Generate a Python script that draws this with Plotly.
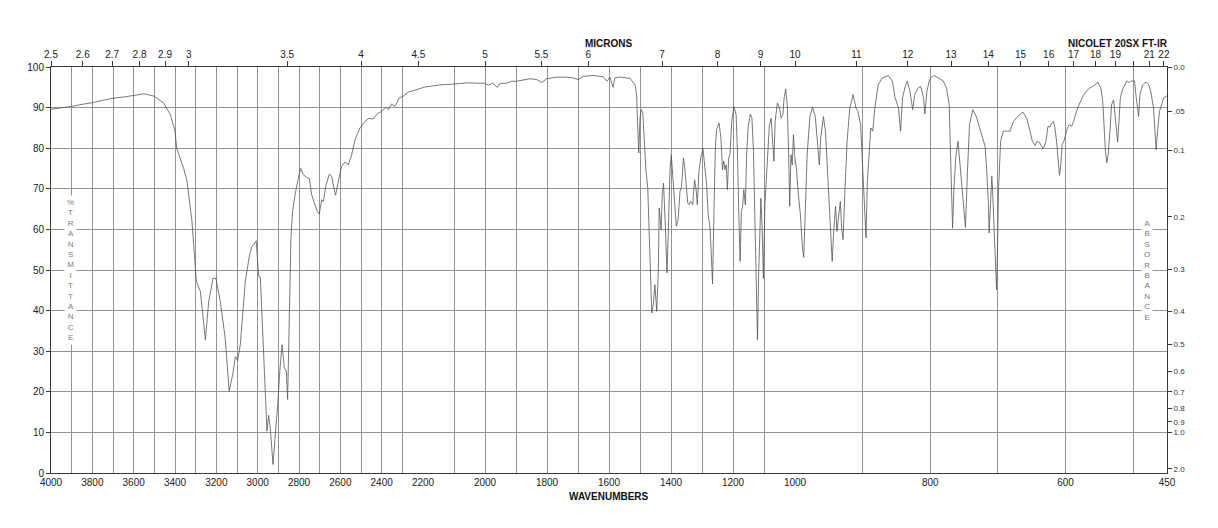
import plotly.graph_objects as go

# ---------------- data ----------------
wavenumbers = [
    4000, 3950, 3900, 3850, 3800, 3750, 3700, 3650, 3600, 3550, 3500, 3455, 3423, 3400, 3392,
    3358, 3342, 3318, 3306, 3297, 3277, 3253, 3237, 3216, 3202, 3181, 3157, 3138, 3121, 3108,
    3097, 3084, 3060, 3039, 3028, 3020, 3007, 2995, 2987, 2974, 2966, 2955, 2947, 2939, 2926,
    2914, 2903, 2893, 2882, 2871, 2861, 2855, 2847, 2839, 2831, 2819, 2803, 2792, 2779, 2763,
    2750, 2739, 2726, 2711, 2702, 2690, 2682, 2669, 2653, 2642, 2631, 2623, 2610, 2594, 2577,
    2561, 2545, 2529, 2505, 2481, 2465, 2440, 2421, 2400, 2379, 2368, 2352, 2336, 2315, 2295,
    2271, 2247, 2215, 2182, 2143, 2100, 2057, 2016, 2002, 1989, 1975, 1960, 1951, 1930, 1914,
    1898, 1876, 1855, 1833, 1817, 1801, 1769, 1736, 1715, 1699, 1683, 1650, 1629, 1618, 1607,
    1597, 1587, 1581, 1564, 1532, 1516, 1511, 1508, 1504, 1500, 1496, 1491, 1486, 1481, 1475,
    1470, 1466, 1462, 1457, 1452, 1446, 1441, 1438, 1432, 1428, 1424, 1418, 1413, 1409, 1403,
    1399, 1393, 1387, 1383, 1377, 1371, 1366, 1360, 1356, 1352, 1346, 1341, 1337, 1330, 1324,
    1319, 1315, 1310, 1304, 1297, 1291, 1285, 1280, 1274, 1270, 1266, 1261, 1257, 1253, 1245,
    1239, 1234, 1230, 1226, 1222, 1218, 1214, 1210, 1204, 1197, 1190, 1186, 1182, 1177, 1173,
    1169, 1165, 1160, 1156, 1151, 1144, 1139, 1134, 1129, 1123, 1121, 1117, 1110, 1106, 1102,
    1097, 1093, 1089, 1083, 1077, 1073, 1068, 1064, 1057, 1050, 1045, 1039, 1035, 1030, 1025,
    1021, 1017, 1013, 1009, 1005, 1001, 998, 995, 992, 989, 987, 985, 982, 978, 974,
    970, 967, 964, 962, 958, 955, 952, 949, 945, 943, 940, 938, 935, 933, 931,
    929, 926, 923, 919, 914, 910, 907, 903, 900, 897, 895, 893, 890, 888, 885,
    882, 877, 871, 862, 856, 852, 847, 844, 841, 837, 834, 830, 826, 823, 818,
    814, 810, 808, 805, 801, 795, 788, 781, 776, 772, 770, 768, 767, 765, 762,
    759, 756, 752, 750, 748, 745, 742, 737, 732, 727, 722, 719, 717, 714, 713,
    711, 709, 708, 706, 704, 702, 701, 699, 696, 692, 687, 682, 677, 671, 663,
    657, 653, 649, 645, 642, 639, 635, 633, 629, 626, 623, 621, 618, 616, 613,
    611, 609, 607, 605, 602, 598, 595, 591, 588, 584, 579, 573, 566, 560, 555,
    552, 548, 545, 543, 541, 539, 537, 534, 532, 529, 527, 525, 523, 521, 519,
    516, 512, 509, 506, 503, 501, 498, 496, 494, 492, 490, 486, 481, 477, 474,
    470, 468, 466, 464, 461, 458, 455, 451, 450,
]
transmittance = [
    89.6, 89.9, 90.3, 90.8, 91.2, 91.8, 92.3, 92.6, 93.0, 93.4, 92.8, 91.1, 88.3, 84.2, 80.0,
    75.0, 72.0, 62.0, 53.8, 47.2, 44.7, 32.8, 42.2, 48.0, 47.9, 42.3, 33.2, 20.1, 24.2, 28.7,
    27.7, 31.6, 47.2, 53.8, 55.8, 56.2, 57.2, 48.4, 48.2, 33.2, 20.1, 10.3, 14.2, 11.1, 2.1,
    9.4, 16.8, 25.0, 31.6, 25.9, 25.0, 18.1, 39.0, 57.9, 64.4, 68.6, 72.7, 75.0, 73.5, 72.8,
    72.5, 68.6, 66.5, 64.4, 63.8, 67.3, 66.9, 71.0, 73.6, 73.1, 70.2, 68.4, 71.8, 75.5, 76.6,
    75.9, 78.4, 82.1, 85.0, 86.6, 87.3, 87.2, 88.5, 89.1, 90.1, 89.5, 90.9, 90.3, 92.4, 92.8,
    93.8, 94.2, 94.8, 95.2, 95.6, 95.8, 96.1, 96.0, 96.0, 95.6, 96.0, 95.0, 96.0, 96.0, 96.5,
    96.5, 96.9, 97.1, 96.9, 96.2, 97.1, 97.5, 97.5, 97.3, 96.9, 97.7, 97.9, 97.7, 97.6, 96.5,
    97.5, 95.0, 97.3, 97.5, 97.2, 95.6, 93.2, 86.6, 78.8, 87.4, 89.5, 88.7, 81.7, 74.7, 70.2,
    57.1, 45.6, 39.4, 41.5, 46.4, 39.8, 49.7, 65.3, 59.9, 68.6, 71.4, 60.3, 49.3, 58.7, 75.1,
    78.4, 71.8, 63.6, 60.8, 62.4, 69.4, 70.6, 77.6, 75.5, 71.0, 66.5, 66.1, 66.9, 66.1, 72.2,
    69.8, 66.1, 74.3, 77.6, 80.0, 75.9, 71.0, 63.6, 60.3, 53.8, 46.6, 66.1, 80.0, 84.6, 86.2,
    82.5, 74.7, 76.8, 74.7, 75.9, 69.8, 77.6, 78.4, 86.6, 90.3, 88.3, 80.0, 66.1, 52.1, 64.4,
    65.7, 69.8, 66.0, 78.4, 85.4, 88.4, 87.5, 79.2, 60.3, 39.0, 32.8, 49.7, 67.7, 60.3, 47.9,
    66.1, 71.4, 79.2, 85.4, 87.4, 83.3, 76.8, 86.6, 91.1, 89.9, 87.4, 88.3, 92.4, 94.6, 90.7,
    80.0, 65.7, 78.4, 75.9, 83.3, 79.2, 75.1, 68.6, 63.6, 55.4, 53.1, 63.6, 78.4, 87.8, 90.1,
    87.8, 80.9, 75.9, 82.5, 87.8, 84.2, 73.5, 62.8, 52.1, 58.7, 65.7, 59.5, 64.4, 66.9, 60.3,
    57.5, 70.2, 81.7, 89.9, 93.2, 89.9, 89.1, 85.8, 74.3, 65.3, 57.9, 71.8, 81.7, 85.0, 84.2,
    89.9, 95.6, 97.3, 97.9, 96.5, 92.4, 89.9, 84.2, 92.4, 95.2, 96.5, 94.0, 89.5, 93.2, 94.8,
    95.2, 92.4, 88.4, 94.0, 96.9, 97.9, 97.3, 96.6, 94.8, 90.7, 78.4, 66.1, 60.3, 70.2, 78.4,
    81.7, 75.9, 69.0, 64.9, 60.5, 74.3, 85.8, 89.5, 87.8, 85.0, 82.5, 80.5, 75.9, 66.1, 59.1,
    68.6, 73.1, 70.2, 62.0, 52.1, 45.2, 52.1, 70.2, 81.7, 84.2, 84.2, 84.2, 86.6, 87.8, 88.9,
    87.2, 84.5, 81.7, 80.7, 81.7, 81.5, 80.5, 79.8, 81.7, 85.4, 85.2, 86.0, 86.6, 85.4, 81.3,
    75.9, 73.3, 75.9, 80.9, 81.9, 84.6, 85.8, 85.4, 86.6, 89.1, 91.1, 93.2, 94.6, 95.2, 95.8,
    96.3, 94.8, 91.5, 85.0, 79.2, 76.4, 78.4, 85.0, 90.7, 91.9, 88.3, 85.0, 81.5, 86.6, 92.4,
    94.4, 95.6, 96.6, 96.1, 96.6, 96.5, 96.6, 93.2, 90.7, 87.8, 93.2, 95.6, 96.3, 95.6, 94.0,
    89.9, 84.6, 79.6, 84.2, 89.1, 90.7, 92.4, 92.8, 92.9,
]

# axis segments (wavenumber ranges, each drawn on one third of the width)
segment_ranges = [[4000, 2200], [2200, 1000], [1000, 450]]
wn_labels_seg = [
    [4000, 3800, 3600, 3400, 3200, 3000, 2800, 2600, 2400, 2200],
    [2000, 1800, 1600, 1400, 1200, 1000],
    [800, 600, 450],
]
micron_ticks = [2.5, 2.6, 2.7, 2.8, 2.9, 3, 3.5, 4, 4.5, 5, 5.5, 6, 7, 8, 9, 10,
                11, 12, 13, 14, 15, 16, 17, 18, 19, 20, 21, 22]
micron_unlabeled = [20]
transmittance_ticks = [0, 10, 20, 30, 40, 50, 60, 70, 80, 90, 100]
absorbance_ticks = [0.0, 0.05, 0.1, 0.2, 0.3, 0.4, 0.5, 0.6, 0.7, 0.8, 0.9, 1.0, 2.0]
absorbance_labels = ["0.0", ".05", "0.1", "0.2", "0.3", "0.4", "0.5", "0.6", "0.7",
                     "0.8", "0.9", "1.0", "2.0"]

# ---------------- figure ----------------
FONT = "Liberation Sans, Arial, Helvetica, sans-serif"
GRID = "#939393"
FRAME = "#3a3a3a"
LINE = "#555555"

fig = go.Figure()
suffix = ["", "2", "3"]
for s in suffix:
    fig.add_trace(go.Scatter(
        x=wavenumbers, y=transmittance, mode="lines",
        line=dict(color=LINE, width=0.8),
        xaxis="x" + s, yaxis="y", showlegend=False, hoverinfo="skip"))
# helper traces so top / right axes are drawn
for s in ["4", "5", "6"]:
    fig.add_trace(go.Scatter(x=[], y=[], xaxis="x" + s, yaxis="y",
                             showlegend=False, hoverinfo="skip"))
fig.add_trace(go.Scatter(x=[], y=[], xaxis="x3", yaxis="y2",
                         showlegend=False, hoverinfo="skip"))

layout = dict(
    width=1202, height=512,
    margin=dict(l=43, r=43, t=59, b=47, pad=0),
    paper_bgcolor="white", plot_bgcolor="white",
    font=dict(family=FONT, size=10, color="#222"),
    showlegend=False,
)

for i, s in enumerate(suffix):
    hi, lo = segment_ranges[i]
    grid_vals = list(range(hi, lo - 1, -100))
    if lo not in grid_vals:
        grid_vals.append(lo)
    texts = [str(v) if v in wn_labels_seg[i] else "" for v in grid_vals]
    layout["xaxis" + s] = dict(
        domain=[i / 3, (i + 1) / 3], range=[hi, lo], anchor="y",
        tickmode="array", tickvals=grid_vals, ticktext=texts,
        ticks="", showgrid=True, gridcolor=GRID, gridwidth=1,
        showline=True, linecolor=FRAME, linewidth=1, mirror=True,
        zeroline=False, tickfont=dict(size=10, color="#222"),
    )
    # top micron axis
    mvals, mtext = [], []
    for m in micron_ticks:
        wn = 10000.0 / m
        if (i == 0 and wn >= 2200) or (i == 1 and 1000 <= wn < 2200) or (i == 2 and wn < 1000):
            mvals.append(wn)
            mtext.append("" if m in micron_unlabeled else ("%g" % m))
    layout["xaxis" + str(i + 4)] = dict(
        overlaying="x" + s, side="top", anchor="y", range=[hi, lo],
        tickmode="array", tickvals=mvals, ticktext=mtext,
        ticks="outside", ticklen=5, tickcolor=FRAME, showgrid=False,
        ticklabelstandoff=-1,
        showline=False, zeroline=False, tickfont=dict(size=10, color="#222"),
    )

layout["yaxis"] = dict(
    range=[0, 100], anchor="x", tickmode="array", tickvals=transmittance_ticks,
    ticks="outside", ticklen=4, tickcolor=FRAME, showgrid=True, gridcolor=GRID,
    gridwidth=1, showline=True, linecolor=FRAME, linewidth=1, zeroline=False,
    tickfont=dict(size=10, color="#222"),
)
layout["yaxis2"] = dict(
    range=[0, 100], overlaying="y", side="right", anchor="x3",
    tickmode="array", tickvals=[100 * 10 ** (-a) for a in absorbance_ticks],
    ticktext=absorbance_labels, ticks="outside", ticklen=4, tickcolor=FRAME,
    showgrid=False, showline=True, linecolor=FRAME, linewidth=1, zeroline=False,
    tickfont=dict(size=8, color="#333"),
)

fig.update_layout(**layout)

stack_font = dict(family=FONT, size=8, color="#7a7a7a")
fig.add_annotation(text="<br>".join(list("%TRANSMITTANCE")), xref="paper", yref="y",
                   x=(70.7 - 51) / 1116, y=50, showarrow=False, font=stack_font,
                   bgcolor="white", borderpad=2, xanchor="center", yanchor="middle")
fig.add_annotation(text="<br>".join(list("ABSORBANCE")), xref="paper", yref="y",
                   x=(1147 - 51) / 1116, y=50, showarrow=False, font=stack_font,
                   bgcolor="white", borderpad=2, xanchor="center", yanchor="middle")

title_font = dict(family=FONT, size=10, color="#111")
fig.add_annotation(text="<b>MICRONS</b>", xref="paper", yref="paper", x=0.5, y=1,
                   yshift=24, showarrow=False, font=title_font,
                   xanchor="center", yanchor="middle")
fig.add_annotation(text="<b>NICOLET 20SX FT-IR</b>", xref="paper", yref="paper",
                   x=1, xshift=3, y=1, yshift=24, showarrow=False, font=title_font,
                   xanchor="right", yanchor="middle")
fig.add_annotation(text="<b>WAVENUMBERS</b>", xref="paper", yref="paper", x=0.5, y=0,
                   yshift=-23, showarrow=False, font=title_font,
                   xanchor="center", yanchor="middle")

fig.write_html("out.html")
